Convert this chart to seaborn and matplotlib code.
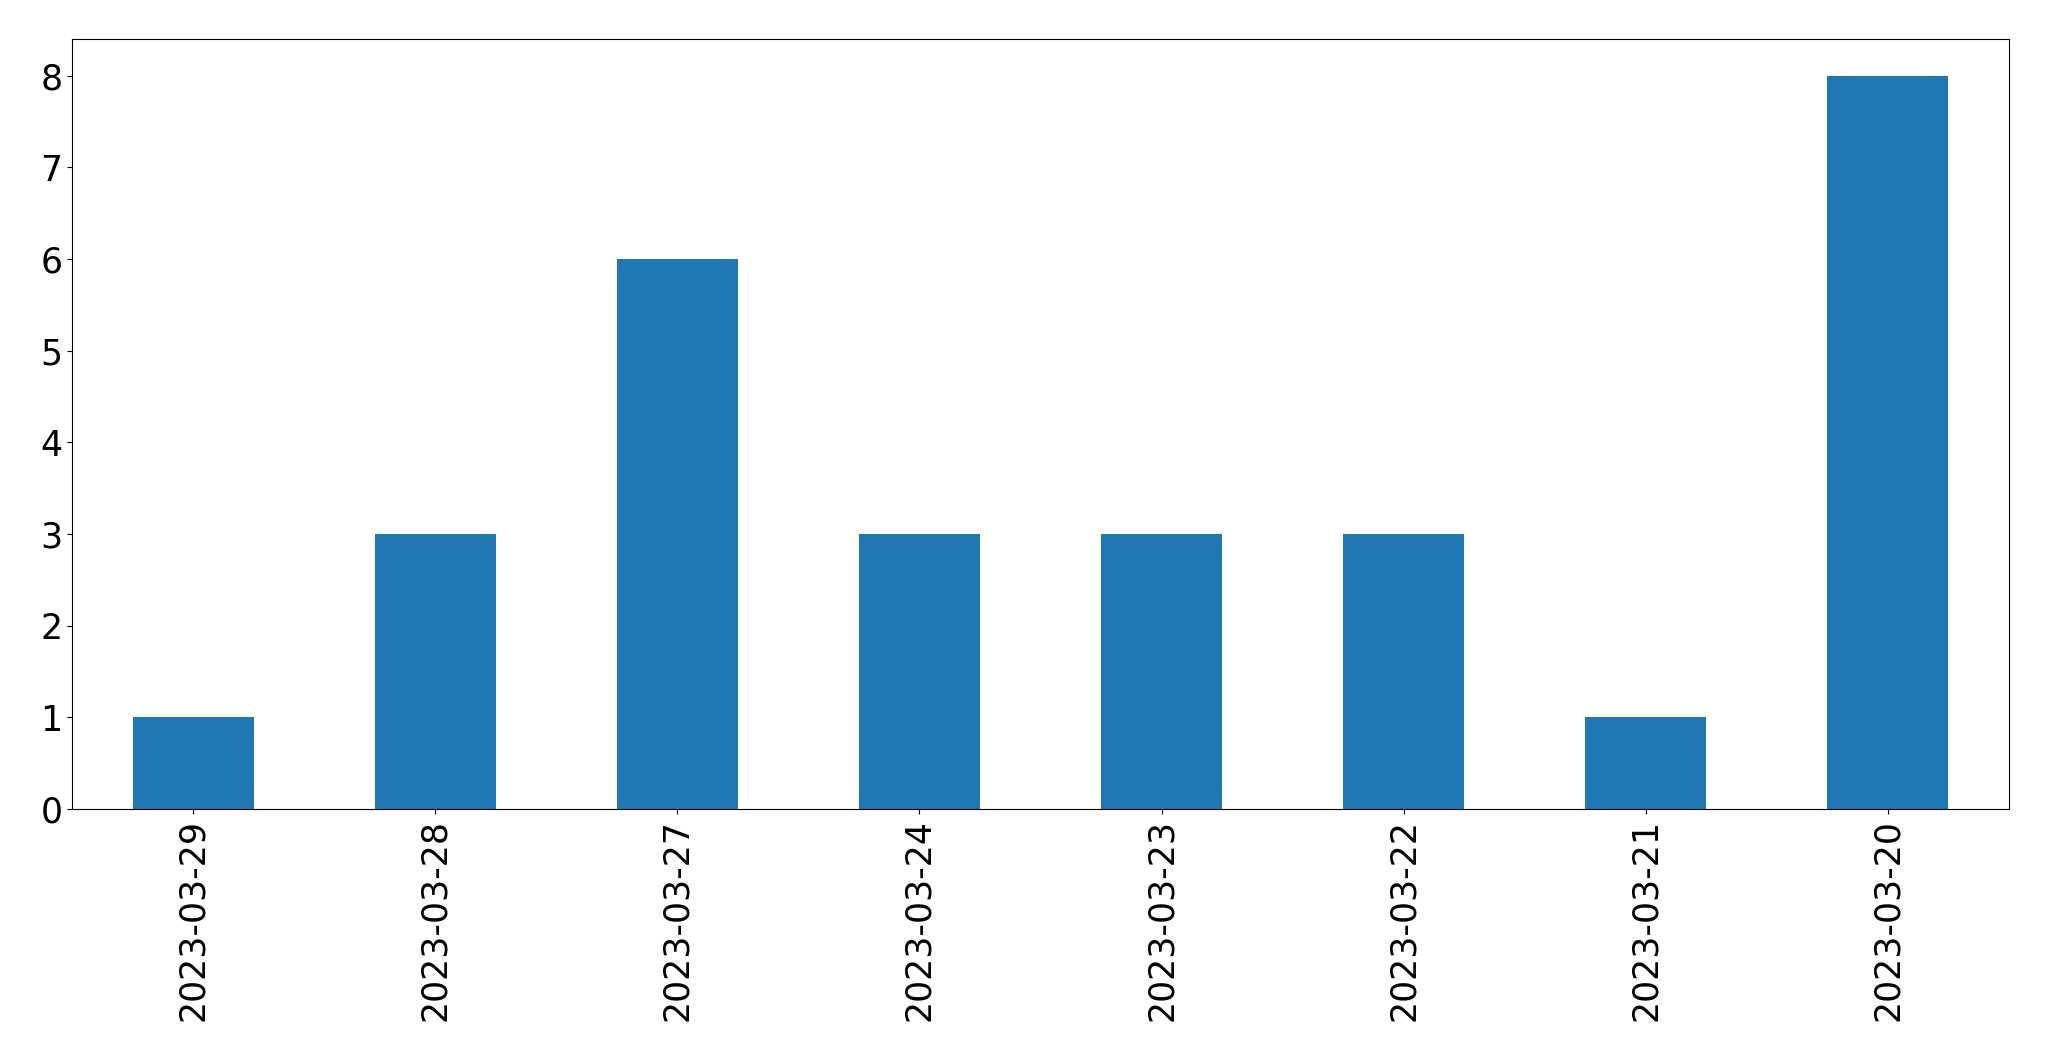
import matplotlib
matplotlib.use("Agg")
import matplotlib.pyplot as plt
import seaborn as sns
import pandas as pd

dates = ["2023-03-29", "2023-03-28", "2023-03-27", "2023-03-24",
         "2023-03-23", "2023-03-22", "2023-03-21", "2023-03-20"]
counts = [1, 3, 6, 3, 3, 3, 1, 8]

df = pd.DataFrame({"date": dates, "count": counts})

fig = plt.figure(figsize=(20.49, 10.61), dpi=100)
ax = fig.add_axes([72 / 2049, 1 - 809 / 1061, (2009 - 72) / 2049, (809 - 39) / 1061])
sns.barplot(data=df, x="date", y="count", order=dates, color="#1f77b4",
            saturation=1, width=0.5, ax=ax, errorbar=None)
ax.set_xlim(-0.5, len(dates) - 0.5)
ax.set_ylim(0, 8.4)
ax.set_xlabel("")
ax.set_ylabel("")
ax.tick_params(axis="both", labelsize=25)
ax.tick_params(axis="x", labelrotation=90)
fig.savefig("out.png", dpi=100)
